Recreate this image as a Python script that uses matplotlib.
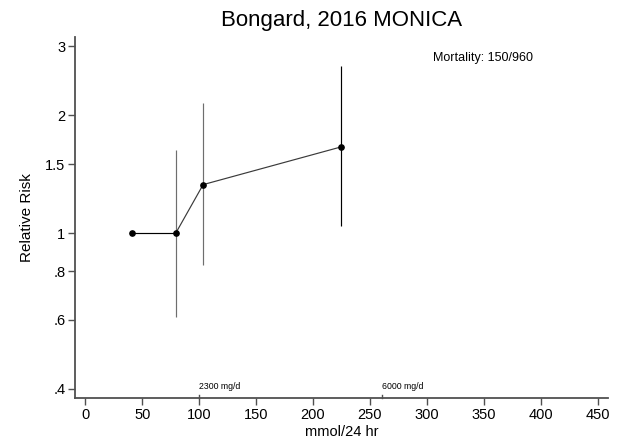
import matplotlib
matplotlib.use("Agg")
import matplotlib.pyplot as plt
import numpy as np

plt.rcParams['font.family'] = ['Liberation Sans', 'DejaVu Sans']

# Data
sodium = [41, 79.5, 103.5, 224.5]
rr = [1.0, 1.0, 1.33, 1.66]
ci_low = [np.nan, 0.61, 0.828, 1.04]
ci_high = [np.nan, 1.63, 2.15, 2.68]
ci_colors = ['#000000', '#6e6e6e', '#6e6e6e', '#000000']
yticks = [0.4, 0.6, 0.8, 1, 1.5, 2, 3]
ytick_labels = ['.4', '.6', '.8', '1', '1.5', '2', '3']
xticks = [0, 50, 100, 150, 200, 250, 300, 350, 400, 450]
ref_x = [100, 6000 / 23]
ref_labels = ['2300 mg/d', '6000 mg/d']
title = 'Bongard, 2016 MONICA'
note = 'Mortality: 150/960'

fig = plt.figure(figsize=(6.22, 4.42), dpi=100)
ax = fig.add_axes([75/622, 1-398/442, (608-75)/622, (398-37)/442])

ax.set_yscale('log')
ax.set_xlim(-9, 459)
ax.set_ylim(0.379, 3.17)

for x, lo, hi, c in zip(sodium, ci_low, ci_high, ci_colors):
    if not np.isnan(lo):
        ax.plot([x, x], [lo, hi], color=c, lw=0.85, solid_capstyle='butt', zorder=2)

ax.plot(sodium[:2], rr[:2], color='#000000', lw=0.85, zorder=3)
ax.plot(sodium[1:], rr[1:], color='#3a3a3a', lw=0.85, zorder=3)
ax.plot(sodium, rr, 'o', color='black', ms=3.8, zorder=4)

ax.set_yticks(yticks)
ax.set_yticklabels(ytick_labels)
ax.yaxis.set_minor_locator(matplotlib.ticker.NullLocator())
ax.set_xticks(xticks)

spine_c = '#505050'
for s in ['top', 'right']:
    ax.spines[s].set_visible(False)
for s in ['left', 'bottom']:
    ax.spines[s].set_color(spine_c)
    ax.spines[s].set_linewidth(1.3)
ax.tick_params(axis='both', direction='out', length=5, width=1.0, color=spine_c,
               labelsize=10.5, pad=2, labelcolor='black')

ax.set_xlabel('mmol/24 hr', fontsize=10.5, labelpad=2)
ax.set_ylabel('Relative Risk', fontsize=11, labelpad=8)
ax.set_title(title, fontsize=16, pad=8)

for xr, lab in zip(ref_x, ref_labels):
    ax.plot([xr, xr], [0.379, 0.385], color=spine_c, lw=1.0, clip_on=False)
    ax.text(xr, 0.406, lab, fontsize=6.3, ha='left', va='center')

ax.text(305, 2.80, note, fontsize=9, ha='left', va='center')

fig.savefig('out.png', dpi=100)
